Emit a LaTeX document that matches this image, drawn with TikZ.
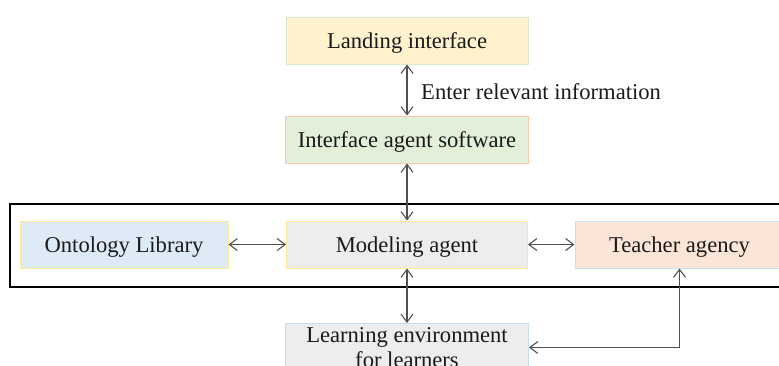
\documentclass[tikz,border=0pt]{standalone}
\usepackage{fontspec}
\setmainfont{Liberation Serif}
\usetikzlibrary{arrows.meta}
\definecolor{fillY}{HTML}{FFF2CC}
\definecolor{fillG}{HTML}{E2F0D9}
\definecolor{fillB}{HTML}{DEEBF7}
\definecolor{fillGr}{HTML}{EDEDED}
\definecolor{fillO}{HTML}{FBE5D6}
\definecolor{edgeG}{HTML}{D5EBCB}
\definecolor{edgeP}{HTML}{F8CBAD}
\definecolor{edgeY}{HTML}{FFE699}
\definecolor{edgeB}{HTML}{C9DDF2}
\definecolor{linecol}{HTML}{505050}
\definecolor{txt}{HTML}{1A1A1A}
\tikzset{
  box/.style={rectangle, line width=1pt, minimum height=47pt, inner sep=0pt,
    font=\fontsize{22.6}{25}\selectfont, text=txt, align=center},
  oneline/.style={text height=15pt, text depth=0pt},
  arr/.style={draw=linecol, line width=1.1pt,
    {Straight Barb[length=8pt,width=12pt]}-{Straight Barb[length=8pt,width=12pt]}},
  frame/.style={draw=black, line width=2pt}
}
\begin{document}
\begin{tikzpicture}[x=1pt,y=-1pt]
\useasboundingbox (0,0) rectangle (779,365);
\clip (0,0) rectangle (779,365);
\node[box, oneline, fill=fillY, draw=edgeG, minimum width=242pt] (land) at (407,40.5) {Landing interface};
\node[box, oneline, fill=fillG, draw=edgeP, minimum width=243pt] (iface) at (407,139.5) {Interface agent software};
\draw[frame] (10,204) rectangle (800,287);
\node[box, oneline, fill=fillB, draw=edgeY, minimum width=208pt] (onto) at (124,244.5) {Ontology Library};
\node[box, oneline, fill=fillGr, draw=edgeY, minimum width=241pt] (model) at (407,244.5) {Modeling agent};
\node[box, oneline, fill=fillO, draw=edgeB, minimum width=209pt] (teach) at (679.5,244.5) {Teacher agency};
\node[box, fill=fillGr, draw=edgeB, minimum width=243pt, minimum height=48pt, anchor=north] (learn) at (407,323) {Learning environment\\for learners};
\node[anchor=west, inner sep=0pt, oneline, font=\fontsize{22.6}{25}\selectfont, text=txt] (lbl) at (421,92) {Enter relevant information};
\draw[arr] (land.south) -- (iface.north);
\draw[arr] (iface.south) -- (model.north);
\draw[arr] (onto.east) -- (model.west);
\draw[arr] (model.east) -- (teach.west);
\draw[arr] (model.south) -- (learn.north);
\draw[arr] (teach.south) |- (learn.east);
\end{tikzpicture}
\end{document}
